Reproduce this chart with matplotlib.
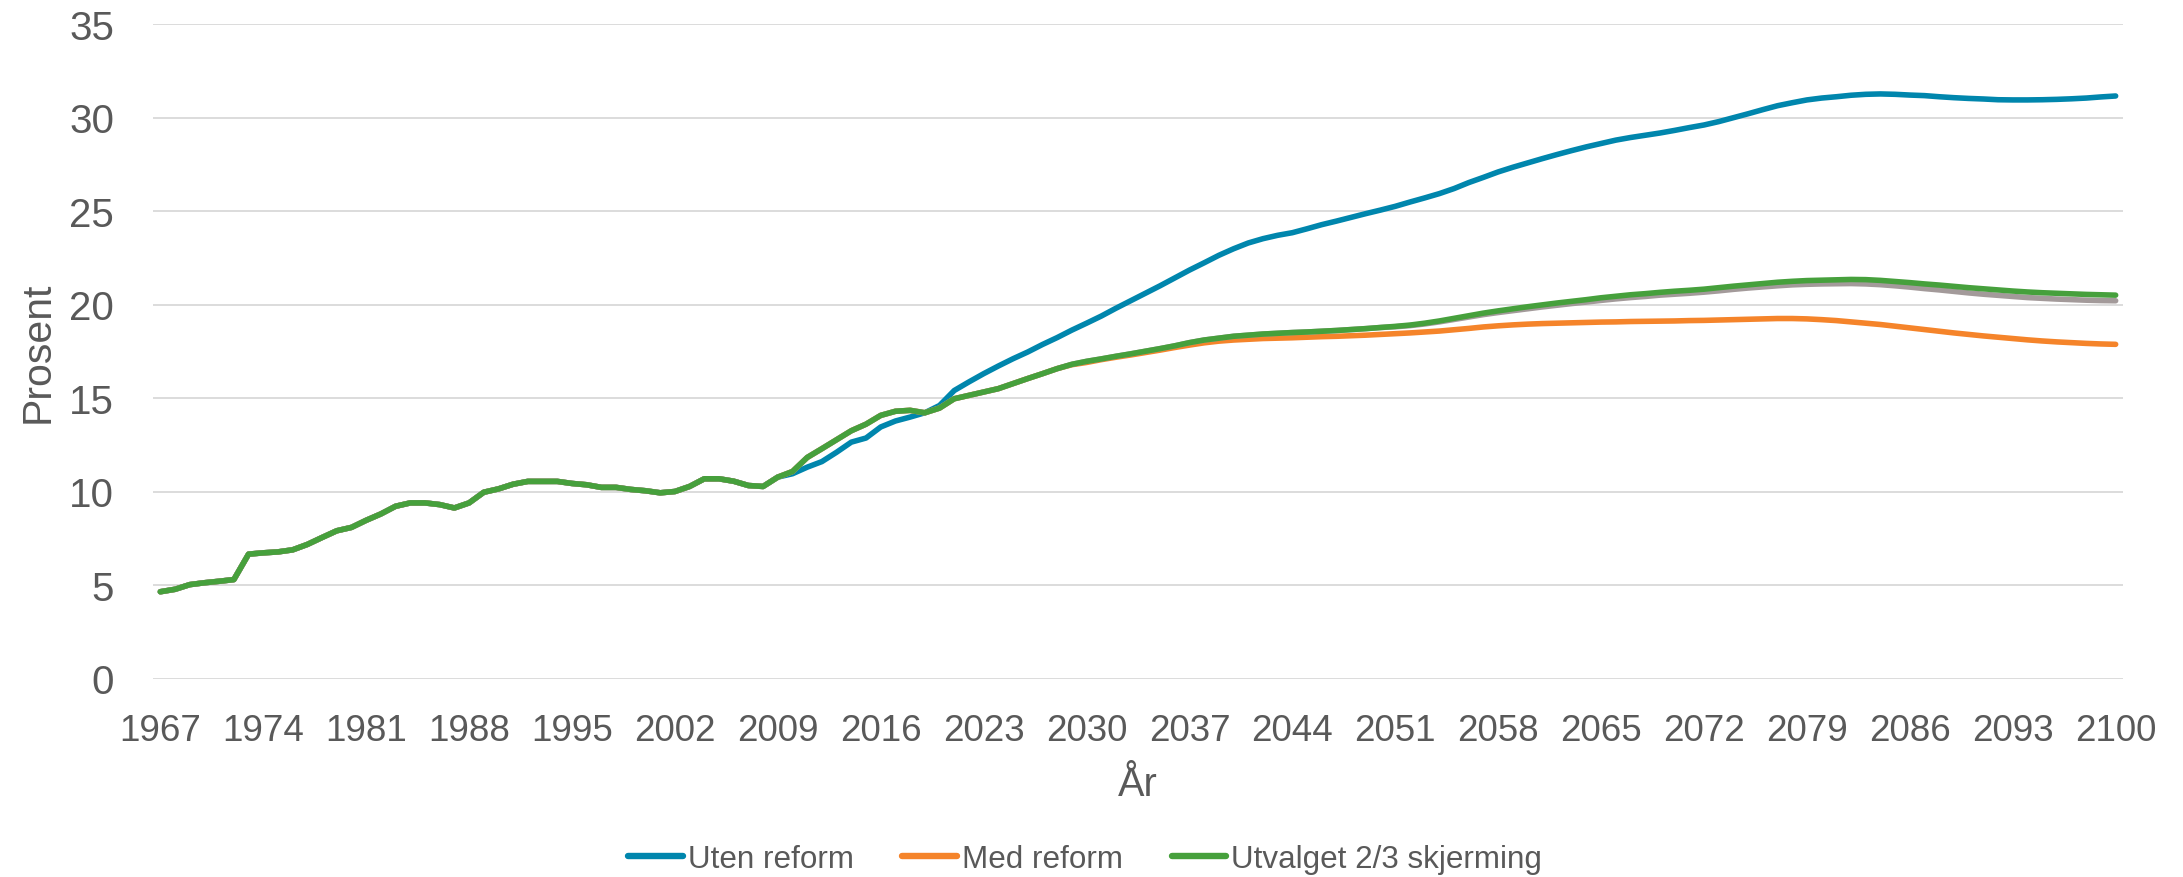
import matplotlib
matplotlib.use("Agg")
import matplotlib.pyplot as plt
import numpy as np

years = list(range(1967, 2101))

# Shared historical values 1967-2009
historical = [4.64, 4.77, 5.02, 5.12, 5.20, 5.29, 6.65, 6.72, 6.77, 6.88,
              7.17, 7.54, 7.90, 8.08, 8.46, 8.80, 9.21, 9.39, 9.39, 9.30,
              9.12, 9.39, 9.96, 10.14, 10.39, 10.54, 10.54, 10.54, 10.43, 10.36,
              10.22, 10.22, 10.11, 10.04, 9.93, 10.00, 10.27, 10.68, 10.68, 10.55,
              10.32, 10.27, 10.77]

# 2010-2100
uten_reform = [10.95, 11.30, 11.60, 12.10, 12.64, 12.86, 13.45, 13.77, 13.98, 14.21,
               14.60, 15.40, 15.86, 16.30, 16.71, 17.10, 17.46, 17.86, 18.23, 18.63,
               19.00, 19.38, 19.80, 20.20, 20.60, 21.00, 21.42, 21.84, 22.23, 22.63,
               22.98, 23.29, 23.52, 23.70, 23.84, 24.05, 24.27, 24.46, 24.66, 24.86,
               25.05, 25.25, 25.48, 25.70, 25.93, 26.20, 26.52, 26.80, 27.09, 27.34,
               27.57, 27.80, 28.02, 28.23, 28.43, 28.61, 28.79, 28.93, 29.05, 29.17,
               29.31, 29.46, 29.60, 29.78, 29.99, 30.20, 30.42, 30.63, 30.79, 30.94,
               31.04, 31.11, 31.19, 31.24, 31.26, 31.24, 31.20, 31.17, 31.11, 31.06,
               31.02, 30.99, 30.95, 30.94, 30.94, 30.95, 30.97, 31.00, 31.04, 31.10,
               31.15]

utvalget = [11.07, 11.82, 12.29, 12.77, 13.25, 13.60, 14.07, 14.29, 14.34, 14.21,
            14.46, 14.96, 15.14, 15.32, 15.50, 15.77, 16.04, 16.30, 16.57, 16.80,
            16.96, 17.09, 17.23, 17.36, 17.50, 17.64, 17.79, 17.96, 18.10, 18.20,
            18.30, 18.36, 18.42, 18.46, 18.50, 18.53, 18.57, 18.61, 18.66, 18.71,
            18.77, 18.83, 18.90, 19.00, 19.12, 19.26, 19.40, 19.54, 19.66, 19.77,
            19.88, 19.98, 20.08, 20.17, 20.26, 20.36, 20.44, 20.52, 20.58, 20.65,
            20.71, 20.76, 20.82, 20.90, 20.98, 21.05, 21.12, 21.19, 21.24, 21.28,
            21.30, 21.32, 21.34, 21.33, 21.29, 21.23, 21.17, 21.10, 21.04, 20.97,
            20.90, 20.84, 20.78, 20.72, 20.67, 20.63, 20.60, 20.57, 20.54, 20.52,
            20.50]

med_reform = [11.07, 11.82, 12.29, 12.77, 13.25, 13.60, 14.07, 14.29, 14.34, 14.21,
              14.46, 14.96, 15.14, 15.32, 15.50, 15.77, 16.04, 16.30, 16.57, 16.78,
              16.90, 17.05, 17.18, 17.30, 17.43, 17.56, 17.70, 17.83, 17.95, 18.04,
              18.10, 18.14, 18.18, 18.20, 18.22, 18.25, 18.28, 18.30, 18.33, 18.36,
              18.40, 18.44, 18.48, 18.53, 18.58, 18.65, 18.72, 18.80, 18.86, 18.91,
              18.95, 18.98, 19.00, 19.02, 19.04, 19.06, 19.07, 19.09, 19.10, 19.11,
              19.12, 19.14, 19.15, 19.17, 19.19, 19.21, 19.23, 19.25, 19.25, 19.23,
              19.19, 19.14, 19.07, 19.00, 18.93, 18.84, 18.75, 18.66, 18.57, 18.48,
              18.40, 18.32, 18.25, 18.18, 18.11, 18.05, 18.00, 17.96, 17.92, 17.89,
              17.87]

gray_series = [11.07, 11.82, 12.29, 12.77, 13.25, 13.60, 14.07, 14.29, 14.34, 14.21,
               14.46, 14.96, 15.14, 15.32, 15.50, 15.77, 16.04, 16.30, 16.57, 16.80,
               16.96, 17.09, 17.23, 17.36, 17.50, 17.64, 17.79, 17.96, 18.10, 18.20,
               18.30, 18.36, 18.42, 18.46, 18.50, 18.53, 18.57, 18.61, 18.66, 18.71,
               18.77, 18.81, 18.87, 18.96, 19.07, 19.20, 19.33, 19.46, 19.57, 19.67,
               19.77, 19.87, 19.96, 20.05, 20.13, 20.22, 20.30, 20.37, 20.43, 20.50,
               20.55, 20.60, 20.66, 20.73, 20.81, 20.88, 20.94, 21.00, 21.05, 21.08,
               21.10, 21.11, 21.12, 21.10, 21.06, 21.00, 20.93, 20.85, 20.78, 20.70,
               20.62, 20.55, 20.49, 20.43, 20.37, 20.33, 20.29, 20.26, 20.23, 20.21,
               20.20]

labels = ["Uten reform", "Med reform", "Utvalget 2/3 skjerming"]
colors = ["#0086AD", "#F5842A", "#46A03C"]
gray_color = "#A39A9A"
text_color = "#595959"

plt.rcParams['font.family'] = ['Liberation Sans', 'DejaVu Sans']

fig = plt.figure(figsize=(21.83, 8.78), dpi=100)
ax = fig.add_axes([153/2183, 1-679.5/878, (2123-153)/2183, (679.5-25)/878])

lw = 4.0
kw = dict(linewidth=lw, solid_capstyle='round', solid_joinstyle='round')
ax.plot(years, historical + uten_reform, color=colors[0], label=labels[0], **kw)
ax.plot(years, historical + med_reform, color=colors[1], label=labels[1], **kw)
ax.plot(years, historical + gray_series, color=gray_color, label='_nolegend_', **kw)
ax.plot(years, historical + utvalget, color=colors[2], label=labels[2], **kw)

ax.set_xlim(1966.5, 2100.5)
ax.set_ylim(0, 35)
ax.set_yticks(range(0, 36, 5))
ax.set_xticks(list(range(1967, 2101, 7)))

ax.grid(axis='y', color='#D9D9D9', linewidth=1.3)
ax.set_axisbelow(True)
for s in ax.spines.values():
    s.set_visible(False)
ax.tick_params(axis='both', length=0, colors=text_color)
ax.tick_params(axis='y', labelsize=29, pad=28)
ax.tick_params(axis='x', labelsize=26.5, pad=25)

ax.set_xlabel("År", fontsize=28.5, color=text_color, labelpad=12)
ax.set_ylabel("Prosent", fontsize=29.5, color=text_color, labelpad=9)

leg = fig.legend(loc='center', bbox_to_anchor=(1085/2183, 1-860/878), ncol=3,
                 frameon=False, fontsize=22.6, handlelength=1.75,
                 handletextpad=0.15, columnspacing=1.55)
for t in leg.get_texts():
    t.set_color(text_color)
for h in leg.get_lines():
    h.set_linewidth(lw + 0.6)

fig.savefig("out.png", dpi=100)
